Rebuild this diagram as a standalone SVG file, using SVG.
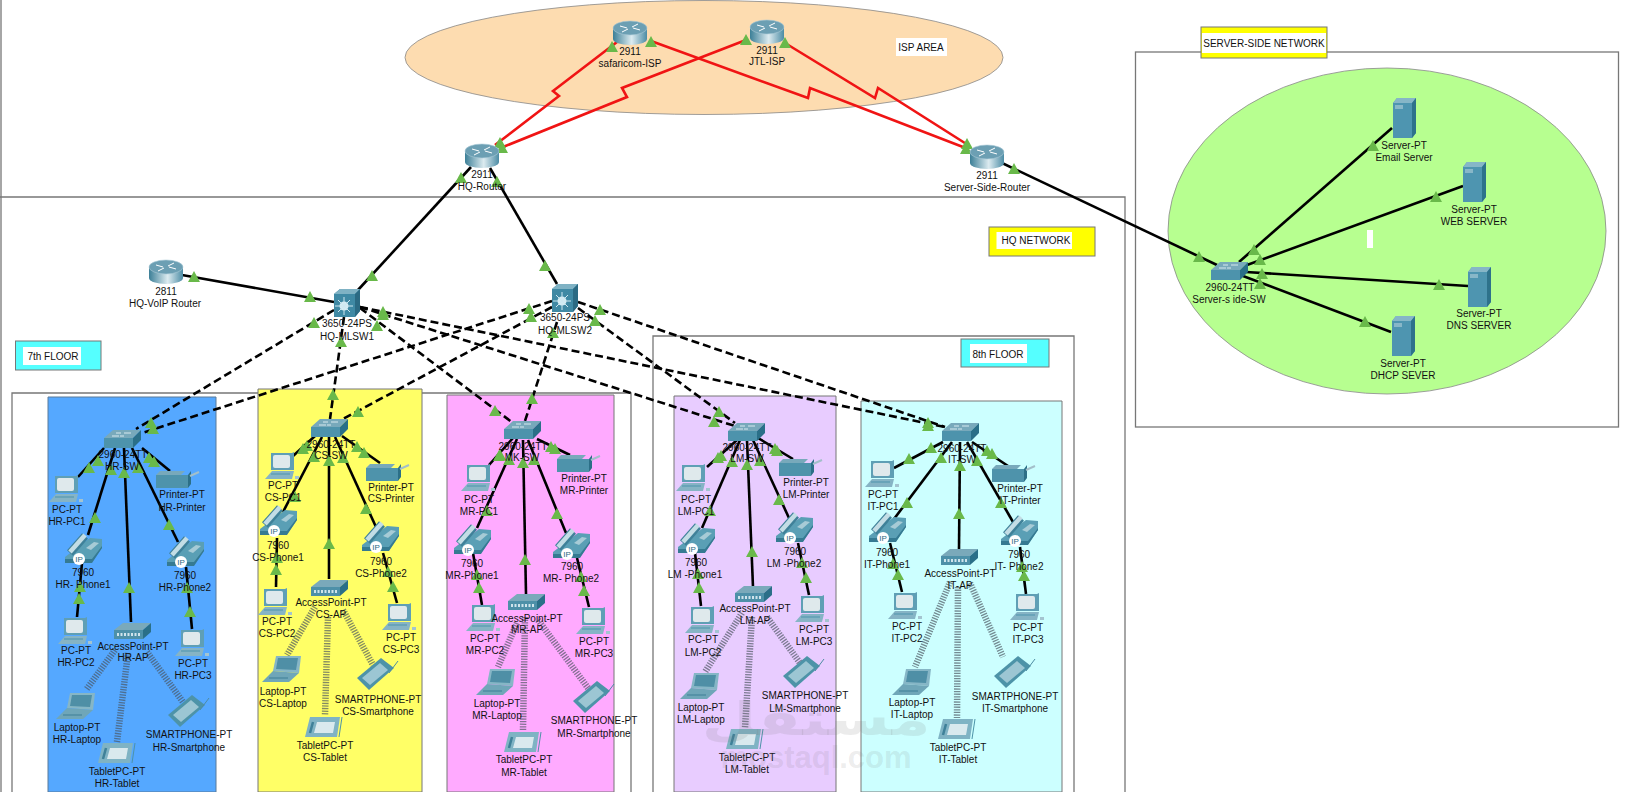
<svg xmlns="http://www.w3.org/2000/svg" width="1626" height="792" viewBox="0 0 1626 792">
<style>
text{font-family:"Liberation Sans",Arial,sans-serif;font-size:10px;text-anchor:middle;fill:#111}
.f{fill:none;stroke:#777;stroke-width:1.3}
.s{stroke:#000;stroke-width:2.6;fill:none}
.d{stroke:#000;stroke-width:2.6;stroke-dasharray:8 4;fill:none}
.w{stroke:#4a545e;stroke-opacity:.68;stroke-width:6.500;stroke-dasharray:1.3 1.3;fill:none}
.r{stroke:#f01414;stroke-width:2.6;fill:none}
.m{fill:#7a7a7a;fill-opacity:.15;font-weight:bold}
</style>
<defs>
<linearGradient id="rg" x1="0" x2="1" y1="0" y2="0"><stop offset="0" stop-color="#3c7f97"/><stop offset=".55" stop-color="#dcebf0"/><stop offset="1" stop-color="#4c8ca5"/></linearGradient>
<polygon id="t" points="0,-6 6,5 -6,5" fill="#69b94a"/>
<g id="router"><path d="M-17-5V6A17 6 0 0 0 17 6V-5Z" fill="url(#rg)"/><ellipse cy="-5" rx="17" ry="7" fill="#6c9fb3" stroke="#a9cad6" stroke-width=".6"/><path d="M-10-7L-3-5M3-5L10-3M-8-1L-2-4M2-6L8-9" stroke="#fff" stroke-width="1"/></g>
<g id="ml"><path d="M-13-9L-7-14H13V8L8 14H-13Z" fill="#3f89a4"/><path d="M-13-9L-7-14H13L8-9Z" fill="#7fb2c4"/><path d="M8-9L13-14V8L8 14Z" fill="#2b6a83"/><circle cx="-3" cy="3" r="4.500" fill="#d5ecf4"/><path d="M-3-6V12M-12 3H6M-9-3L3 9M-9 9L3-3" stroke="#cfe8f1" stroke-width="1"/></g>
<g id="sw"><path d="M-18-1L-9-9H19L11-1Z" fill="#78a9bb"/><path d="M-18-1H11V9H-18Z" fill="#4d93ac"/><path d="M11-1L19-9V1L11 9Z" fill="#2a6f88"/><path d="M-10-3H-3M2-6H9M-2-3H2M-6-6H-1" stroke="#d7e9ef" stroke-width="1"/></g>
<g id="srv"><path d="M-11-15L-7-20H12V15L8 20H-11Z" fill="#4e95b0"/><path d="M-11-15L-7-20H12L8-15Z" fill="#86b6c7"/><path d="M8-15L12-20V15L8 20Z" fill="#2e728b"/><rect x="-9" y="-13" width="8" height="4" fill="#88b7c8"/></g>
<g id="pc"><path d="M-11-13H10L12-14V4H-11Z" fill="#5f9fb5"/><rect x="-9" y="-11" width="17" height="13" rx="2" fill="#dfe9ec"/><path d="M-17 13L-10 5H12L10 13Z" fill="#86b4c5"/><path d="M-11 8H8" stroke="#4d93ac"/><path d="M13 10h4v3h-4Z" fill="#a4c4d0"/></g>
<g id="ph"><path d="M-18 6L7-13L19-12V-3L9 11L-18 12Z" fill="#5a9fb5"/><path d="M-18 8H9L19-5V-3L9 12H-18Z" fill="#357a92"/><path d="M-13 2L2-15" stroke="#3f8199" stroke-width="8"/><path d="M-13 1L2-16" stroke="#c3dde5" stroke-width="4.500"/><path d="M3-3L11-9L16-8L8-1Z" fill="#a7cbd6"/><circle cx="-4" cy="8" r="6" fill="#fff"/><text x="-4" y="11" style="font-size:8px;fill:#2b6a83">IP</text></g>
<g id="pr"><path d="M-21-4L-17-8H8L4-4Z" fill="#78a9bb"/><path d="M-21-4H11V9H-21Z" fill="#4e93ab"/><path d="M11-4L14-8V5L11 9Z" fill="#2c6f87"/><path d="M13-3L22-7" stroke="#a3bfca" stroke-width="2"/></g>
<g id="ap"><path d="M-18-1L-9-8H19L11-1Z" fill="#7aa9ba"/><path d="M-18-1H11V8H-18Z" fill="#4d90a8"/><path d="M11-1L19-8V1L11 8Z" fill="#2a6f88"/><path d="M-15 3.500H8" stroke="#cfe4ec" stroke-width="3" stroke-dasharray="2 1.500"/></g>
<g id="lap"><path d="M-6-13H19L17 4L-9 2Z" fill="#86b6c6"/><path d="M-4-11H16L14 1L-6 0Z" fill="#4f8fa6"/><path d="M-9 2L-20 13H7L17 4Z" fill="#6fa6b8"/><path d="M-13 9H6" stroke="#3f7f96"/></g>
<g id="tab"><path d="M-14-10H16L13 10H-19Z" fill="#7fb3c4"/><path d="M-7-5H11L9 6H-10Z" fill="#d9e9ee"/><path d="M-11-5L-14 6" stroke="#3f8199" stroke-width="2.500"/><path d="M18-10L15 10" stroke="#4d93a8" stroke-width="1"/></g>
<g id="sm"><path d="M-20 3L4-17L17-7L-8 15Z" fill="#4d93a8"/><path d="M-15 3L3-12L11-5L-7 10Z" fill="#9cc6d3"/><path d="M12-2L21-14" stroke="#4d8ca2" stroke-width="1"/></g>
</defs>
<rect width="1626" height="792" fill="#fff"/>
<g id="background">
<path class="f" d="M1 0V792M0 197H1125V792"/>
<ellipse cx="704" cy="57.500" rx="299" ry="57" fill="#fddcb0" stroke="#888" stroke-width=".8"/>
<rect class="f" x="1135.500" y="52" width="483" height="375"/>
<ellipse cx="1387" cy="231" rx="219" ry="163" fill="#b7ff90" stroke="#888" stroke-width=".8"/>
<rect x="1367" y="230" width="6" height="18" fill="#fff"/>
<path class="f" d="M12 792V393H631V792M653 792V336H1074V792"/>
<path d="M48 792V397H216V792Z" fill="#55a8ff" stroke="#5a7a9a"/>
<path d="M258 792V389H422V792Z" fill="#ffff66" stroke="#777"/>
<path d="M447 792V395H614V792Z" fill="#ffaaff" stroke="#777"/>
<path d="M674 792V396H836V792Z" fill="#e8ccff" stroke="#777"/>
<path d="M861 792V401H1062V792Z" fill="#ccffff" stroke="#777"/>
<g id="label-isp"><rect x="896" y="38" width="51" height="18" fill="#fff"/><text x="921" y="50.500">ISP AREA</text></g>
<g id="label-server"><rect x="1201" y="27" width="126" height="31" fill="#ffff00" stroke="#777"/><rect x="1202" y="33" width="124" height="20" fill="#fff"/><text x="1264" y="46.500">SERVER-SIDE NETWORK</text></g>
<g id="label-hq"><rect x="989" y="227" width="106" height="29" fill="#ffff00" stroke="#777"/><rect x="996.500" y="232" width="75.500" height="17" fill="#fff"/><text x="1036" y="244">HQ NETWORK</text></g>
<g id="label-8"><rect x="961" y="339" width="88" height="28" fill="#55ffff" stroke="#777"/><rect x="970" y="344" width="57" height="19" fill="#fff"/><text x="998" y="357.500">8th FLOOR</text></g>
<g id="label-7"><rect x="15.500" y="341" width="85.500" height="29" fill="#55ffff" stroke="#777"/><rect x="23" y="347" width="58" height="18" fill="#fff"/><text x="53" y="359.500">7th FLOOR</text></g>
</g>
<g id="connectors">
<polyline class="r" points="617,42 553,91 559,96 495,145"/>
<polyline class="r" points="746,40 622,88 627,97 503,147"/>
<polyline class="r" points="651,41 808,98 810,88 963,147"/>
<polyline class="r" points="785,43 875,98 878,88 968,145"/>
<line class="s" x1="471" y1="167" x2="358" y2="290"/><line class="s" x1="490" y1="168" x2="557" y2="284"/>
<line class="s" x1="182" y1="275" x2="334" y2="302"/><line class="s" x1="1002" y1="163" x2="1217" y2="265"/>
<line class="s" x1="1239" y1="262" x2="1392" y2="128"/><line class="s" x1="1247" y1="265" x2="1463" y2="186"/>
<line class="s" x1="1246" y1="272" x2="1468" y2="286"/><line class="s" x1="1243" y1="276" x2="1391" y2="332"/>
<line class="d" x1="334" y1="310" x2="136" y2="429"/><line class="d" x1="552" y1="301" x2="142" y2="433"/>
<line class="d" x1="344" y1="317" x2="330" y2="419"/><line class="d" x1="552" y1="307" x2="343" y2="419"/>
<line class="d" x1="360" y1="308" x2="513" y2="423"/><line class="d" x1="557" y1="322" x2="525" y2="421"/>
<line class="d" x1="360" y1="307" x2="735" y2="426"/><line class="d" x1="578" y1="308" x2="735" y2="423"/>
<line class="d" x1="360" y1="307" x2="945" y2="427"/><line class="d" x1="578" y1="302" x2="945" y2="427"/>
<line class="s" x1="104" y1="448" x2="78" y2="477"/><line class="s" x1="115" y1="448" x2="88" y2="535"/><line class="s" x1="124" y1="448" x2="131" y2="622"/><line class="s" x1="132" y1="448" x2="178" y2="542"/><line class="s" x1="142" y1="448" x2="170" y2="471"/><line class="s" x1="82" y1="563" x2="77" y2="617"/><line class="s" x1="186" y1="567" x2="192" y2="629"/>
<line class="w" x1="115" y1="650" x2="86" y2="690"/><line class="w" x1="128" y1="653" x2="117" y2="742"/><line class="w" x1="147" y1="652" x2="183" y2="702"/>
<line class="s" x1="315" y1="436" x2="293" y2="456"/><line class="s" x1="322" y1="437" x2="283" y2="512"/><line class="s" x1="329" y1="437" x2="329" y2="579"/><line class="s" x1="335" y1="437" x2="376" y2="527"/><line class="s" x1="342" y1="436" x2="380" y2="463"/><line class="s" x1="277" y1="538" x2="276" y2="587"/><line class="s" x1="383" y1="553" x2="397" y2="603"/>
<line class="w" x1="315" y1="607" x2="287" y2="655"/><line class="w" x1="328" y1="617" x2="325" y2="715"/><line class="w" x1="343" y1="610" x2="373" y2="665"/>
<line class="s" x1="513" y1="438" x2="489" y2="465"/><line class="s" x1="517" y1="439" x2="477" y2="528"/><line class="s" x1="523" y1="440" x2="526" y2="594"/><line class="s" x1="528" y1="440" x2="566" y2="533"/><line class="s" x1="537" y1="439" x2="570" y2="455"/><line class="s" x1="473" y1="553" x2="482" y2="605"/><line class="s" x1="577" y1="558" x2="589" y2="607"/>
<line class="w" x1="517" y1="623" x2="498" y2="667"/><line class="w" x1="525" y1="617" x2="523" y2="730"/><line class="w" x1="538" y1="620" x2="588" y2="688"/>
<line class="s" x1="737" y1="440" x2="707" y2="467"/><line class="s" x1="740" y1="440" x2="702" y2="528"/><line class="s" x1="747" y1="440" x2="753" y2="587"/><line class="s" x1="753" y1="440" x2="789" y2="518"/><line class="s" x1="758" y1="438" x2="793" y2="459"/><line class="s" x1="695" y1="553" x2="701" y2="606"/><line class="s" x1="798" y1="543" x2="809" y2="595"/>
<line class="w" x1="742" y1="613" x2="705" y2="672"/><line class="w" x1="752" y1="617" x2="745" y2="728"/><line class="w" x1="767" y1="617" x2="800" y2="663"/>
<line class="s" x1="943" y1="442" x2="894" y2="468"/><line class="s" x1="952" y1="442" x2="894" y2="519"/><line class="s" x1="960" y1="442" x2="959" y2="549"/><line class="s" x1="967" y1="442" x2="1013" y2="522"/><line class="s" x1="972" y1="442" x2="1008" y2="466"/><line class="s" x1="890" y1="543" x2="902" y2="592"/><line class="s" x1="1020" y1="547" x2="1026" y2="594"/>
<line class="w" x1="950" y1="582" x2="915" y2="667"/><line class="w" x1="958" y1="587" x2="957" y2="718"/><line class="w" x1="970" y1="583" x2="1003" y2="657"/>
<g id="link-lights">
<use href="#t" x="612" y="47"/><use href="#t" x="651" y="42"/><use href="#t" x="746" y="40"/><use href="#t" x="785" y="43"/><use href="#t" x="500" y="143"/><use href="#t" x="502" y="148"/><use href="#t" x="967" y="144"/><use href="#t" x="966" y="149"/>
<use href="#t" x="461" y="178"/><use href="#t" x="372" y="276"/><use href="#t" x="497" y="182"/><use href="#t" x="545" y="266"/><use href="#t" x="194" y="277"/><use href="#t" x="310" y="297"/><use href="#t" x="1014" y="169"/><use href="#t" x="1199" y="257"/>
<use href="#t" x="1254" y="250"/><use href="#t" x="1373" y="146"/><use href="#t" x="1260" y="260"/><use href="#t" x="1436" y="197"/><use href="#t" x="1262" y="274"/><use href="#t" x="1439" y="285"/><use href="#t" x="1260" y="284"/><use href="#t" x="1365" y="322"/>
<use href="#t" x="314" y="323"/><use href="#t" x="151" y="423"/><use href="#t" x="529" y="309"/><use href="#t" x="153" y="429"/><use href="#t" x="341" y="342"/><use href="#t" x="333" y="395"/><use href="#t" x="531" y="317"/><use href="#t" x="358" y="412"/><use href="#t" x="377" y="326"/><use href="#t" x="495" y="411"/><use href="#t" x="553" y="333"/><use href="#t" x="532" y="399"/><use href="#t" x="383" y="312"/><use href="#t" x="383" y="315"/><use href="#t" x="714" y="422"/><use href="#t" x="719" y="412"/><use href="#t" x="600" y="310"/><use href="#t" x="595" y="321"/><use href="#t" x="928" y="423"/><use href="#t" x="928" y="426"/>
<use href="#t" x="98" y="461"/><use href="#t" x="89" y="468"/><use href="#t" x="111" y="470"/><use href="#t" x="95" y="518"/><use href="#t" x="124" y="473"/><use href="#t" x="129" y="588"/><use href="#t" x="138" y="468"/><use href="#t" x="169" y="525"/><use href="#t" x="149" y="458"/><use href="#t" x="154" y="462"/><use href="#t" x="80" y="587"/><use href="#t" x="79" y="599"/><use href="#t" x="187" y="588"/><use href="#t" x="190" y="612"/>
<use href="#t" x="307" y="446"/><use href="#t" x="303" y="449"/><use href="#t" x="314" y="457"/><use href="#t" x="295" y="497"/><use href="#t" x="329" y="461"/><use href="#t" x="329" y="544"/><use href="#t" x="343" y="458"/><use href="#t" x="366" y="509"/><use href="#t" x="357" y="447"/><use href="#t" x="364" y="453"/><use href="#t" x="277" y="558"/><use href="#t" x="276" y="570"/><use href="#t" x="388" y="572"/><use href="#t" x="393" y="587"/>
<use href="#t" x="499" y="456"/><use href="#t" x="500" y="455"/><use href="#t" x="509" y="460"/><use href="#t" x="487" y="511"/><use href="#t" x="523" y="463"/><use href="#t" x="525" y="560"/><use href="#t" x="534" y="460"/><use href="#t" x="557" y="514"/><use href="#t" x="551" y="447"/><use href="#t" x="555" y="449"/><use href="#t" x="477" y="575"/><use href="#t" x="479" y="588"/><use href="#t" x="581" y="577"/><use href="#t" x="584" y="591"/>
<use href="#t" x="721" y="456"/><use href="#t" x="718" y="458"/><use href="#t" x="732" y="462"/><use href="#t" x="710" y="511"/><use href="#t" x="747" y="465"/><use href="#t" x="752" y="552"/><use href="#t" x="760" y="461"/><use href="#t" x="779" y="500"/><use href="#t" x="775" y="449"/><use href="#t" x="777" y="451"/><use href="#t" x="698" y="574"/><use href="#t" x="699" y="588"/><use href="#t" x="802" y="563"/><use href="#t" x="806" y="578"/>
<use href="#t" x="931" y="448"/><use href="#t" x="909" y="459"/><use href="#t" x="941" y="458"/><use href="#t" x="907" y="503"/><use href="#t" x="960" y="466"/><use href="#t" x="959" y="514"/><use href="#t" x="977" y="461"/><use href="#t" x="1001" y="503"/><use href="#t" x="987" y="451"/><use href="#t" x="992" y="454"/><use href="#t" x="893" y="564"/><use href="#t" x="898" y="575"/><use href="#t" x="1022" y="567"/><use href="#t" x="1024" y="576"/>
</g>
</g>
<g id="safaricom-ISP"><use href="#router" x="630" y="33"/><text x="630" y="54.500">2911</text><text x="630" y="66.500">safaricom-ISP</text></g>
<g id="JTL-ISP"><use href="#router" x="767" y="32"/><text x="767" y="53.500">2911</text><text x="767" y="64.500">JTL-ISP</text></g>
<g id="HQ-Router"><use href="#router" x="482" y="156"/><text x="482" y="177.500">2911</text><text x="482" y="189.500">HQ-Router</text></g>
<g id="Server-Side-Router"><use href="#router" x="987" y="157"/><text x="987" y="178.500">2911</text><text x="987" y="190.500">Server-Side-Router</text></g>
<g id="HQ-VoIP-Router"><use href="#router" x="166" y="272"/><text x="166" y="294.500">2811</text><text x="165" y="306.500">HQ-VoIP Router</text></g>
<g id="HQ-MLSW1"><use href="#ml" x="347" y="303"/><text x="347" y="326.500">3650-24PS</text><text x="347" y="339.500">HQ-MLSW1</text></g>
<g id="HQ-MLSW2"><use href="#ml" x="565" y="298"/><text x="565" y="320.500">3650-24PS</text><text x="565" y="333.500">HQ-MLSW2</text></g>
<g id="Server-side-SW"><use href="#sw" x="1229" y="271"/><text x="1230" y="290.500">2960-24TT</text><text x="1229" y="302.500">Server-s ide-SW</text></g>
<g id="Email-Server"><use href="#srv" x="1404" y="118"/><text x="1404" y="148.500">Server-PT</text><text x="1404" y="160.500">Email Server</text></g>
<g id="Web-Server"><use href="#srv" x="1474" y="182"/><text x="1474" y="212.500">Server-PT</text><text x="1474" y="224.500">WEB SERVER</text></g>
<g id="DNS-Server"><use href="#srv" x="1479" y="287"/><text x="1479" y="316.500">Server-PT</text><text x="1479" y="328.500">DNS SERVER</text></g>
<g id="DHCP-Server"><use href="#srv" x="1403" y="336"/><text x="1403" y="366.500">Server-PT</text><text x="1403" y="378.500">DHCP SEVER</text></g>
<g id="HR-SW"><use href="#sw" x="122" y="439"/><text x="123" y="457.500">2960-24TT</text><text x="122" y="469.500">HR-SW</text></g>
<g id="HR-PC1"><use href="#pc" x="66" y="489"/><text x="67" y="512.500">PC-PT</text><text x="67" y="524.500">HR-PC1</text></g>
<g id="HR-Phone1"><use href="#ph" x="83" y="551"/><text x="83" y="575.500">7960</text><text x="83" y="587.500">HR- Phone1</text></g>
<g id="HR-PC2"><use href="#pc" x="75" y="631"/><text x="76" y="653.500">PC-PT</text><text x="76" y="665.500">HR-PC2</text></g>
<g id="HR-AP"><use href="#ap" x="132" y="631"/><text x="133" y="649.500">AccessPoint-PT</text><text x="133" y="660.500">HR-AP</text></g>
<g id="HR-PC3"><use href="#pc" x="192" y="643"/><text x="193" y="666.500">PC-PT</text><text x="193" y="678.500">HR-PC3</text></g>
<g id="HR-Phone2"><use href="#ph" x="185" y="554"/><text x="185" y="578.500">7960</text><text x="185" y="590.500">HR-Phone2</text></g>
<g id="HR-Printer"><use href="#pr" x="177" y="479"/><text x="182" y="497.500">Printer-PT</text><text x="182" y="510.500">HR-Printer</text></g>
<g id="HR-Laptop"><use href="#lap" x="76" y="706"/><text x="77" y="730.500">Laptop-PT</text><text x="77" y="742.500">HR-Laptop</text></g>
<g id="HR-Tablet"><use href="#tab" x="117" y="753"/><text x="117" y="774.500">TabletPC-PT</text><text x="117" y="786.500">HR-Tablet</text></g>
<g id="HR-Smartphone"><use href="#sm" x="188" y="712"/><text x="189" y="737.500">SMARTPHONE-PT</text><text x="189" y="750.500">HR-Smartphone</text></g>
<g id="CS-SW"><use href="#sw" x="329" y="428"/><text x="331" y="447.500">2960-24TT</text><text x="331" y="458.500">CS-SW</text></g>
<g id="CS-PC1"><use href="#pc" x="282" y="466"/><text x="283" y="488.500">PC-PT</text><text x="283" y="500.500">CS-PC1</text></g>
<g id="CS-Phone1"><use href="#ph" x="278" y="523"/><text x="278" y="548.500">7960</text><text x="278" y="560.500">CS-Phone1</text></g>
<g id="CS-PC2"><use href="#pc" x="275" y="602"/><text x="277" y="624.500">PC-PT</text><text x="277" y="636.500">CS-PC2</text></g>
<g id="CS-AP"><use href="#ap" x="329" y="588"/><text x="331" y="605.500">AccessPoint-PT</text><text x="331" y="617.500">CS-AP</text></g>
<g id="CS-PC3"><use href="#pc" x="399" y="617"/><text x="401" y="640.500">PC-PT</text><text x="401" y="652.500">CS-PC3</text></g>
<g id="CS-Phone2"><use href="#ph" x="380" y="539"/><text x="381" y="564.500">7960</text><text x="381" y="576.500">CS-Phone2</text></g>
<g id="CS-Printer"><use href="#pr" x="387" y="472"/><text x="391" y="490.500">Printer-PT</text><text x="391" y="501.500">CS-Printer</text></g>
<g id="CS-Laptop"><use href="#lap" x="282" y="669"/><text x="283" y="694.500">Laptop-PT</text><text x="283" y="706.500">CS-Laptop</text></g>
<g id="CS-Tablet"><use href="#tab" x="324" y="727"/><text x="325" y="748.500">TabletPC-PT</text><text x="325" y="760.500">CS-Tablet</text></g>
<g id="CS-Smartphone"><use href="#sm" x="377" y="675"/><text x="378" y="702.500">SMARTPHONE-PT</text><text x="378" y="714.500">CS-Smartphone</text></g>
<g id="MR-SW"><use href="#sw" x="522" y="430"/><text x="523" y="449.500">2960-24TT</text><text x="522" y="460.500">MK-SW</text></g>
<g id="MR-PC1"><use href="#pc" x="478" y="478"/><text x="479" y="502.500">PC-PT</text><text x="479" y="514.500">MR-PC1</text></g>
<g id="MR-Phone1"><use href="#ph" x="472" y="542"/><text x="472" y="566.500">7960</text><text x="472" y="578.500">MR-Phone1</text></g>
<g id="MR-PC2"><use href="#pc" x="483" y="618"/><text x="485" y="641.500">PC-PT</text><text x="485" y="653.500">MR-PC2</text></g>
<g id="MR-AP"><use href="#ap" x="526" y="602"/><text x="527" y="621.500">AccessPoint-PT</text><text x="527" y="632.500">MR-AP</text></g>
<g id="MR-PC3"><use href="#pc" x="593" y="621"/><text x="594" y="644.500">PC-PT</text><text x="594" y="656.500">MR-PC3</text></g>
<g id="MR-Phone2"><use href="#ph" x="571" y="546"/><text x="572" y="569.500">7960</text><text x="571" y="581.500">MR- Phone2</text></g>
<g id="MR-Printer"><use href="#pr" x="578" y="463"/><text x="584" y="481.500">Printer-PT</text><text x="584" y="493.500">MR-Printer</text></g>
<g id="MR-Laptop"><use href="#lap" x="496" y="682"/><text x="497" y="706.500">Laptop-PT</text><text x="497" y="718.500">MR-Laptop</text></g>
<g id="MR-Tablet"><use href="#tab" x="523" y="742"/><text x="524" y="762.500">TabletPC-PT</text><text x="524" y="775.500">MR-Tablet</text></g>
<g id="MR-Smartphone"><use href="#sm" x="593" y="698"/><text x="594" y="723.500">SMARTPHONE-PT</text><text x="594" y="736.500">MR-Smartphone</text></g>
<g id="LM-SW"><use href="#sw" x="746" y="432"/><text x="747" y="450.500">2960-24TT</text><text x="747" y="461.500">LM-SW</text></g>
<g id="LM-PC1"><use href="#pc" x="693" y="478"/><text x="696" y="502.500">PC-PT</text><text x="696" y="514.500">LM-PC1</text></g>
<g id="LM-Phone1"><use href="#ph" x="696" y="541"/><text x="696" y="565.500">7960</text><text x="695" y="577.500">LM -Phone1</text></g>
<g id="LM-PC2"><use href="#pc" x="702" y="620"/><text x="703" y="642.500">PC-PT</text><text x="703" y="655.500">LM-PC2</text></g>
<g id="LM-AP"><use href="#ap" x="753" y="594"/><text x="755" y="611.500">AccessPoint-PT</text><text x="755" y="623.500">LM-AP</text></g>
<g id="LM-PC3"><use href="#pc" x="812" y="609"/><text x="814" y="632.500">PC-PT</text><text x="814" y="644.500">LM-PC3</text></g>
<g id="LM-Phone2"><use href="#ph" x="794" y="530"/><text x="795" y="554.500">7960</text><text x="794" y="566.500">LM -Phone2</text></g>
<g id="LM-Printer"><use href="#pr" x="800" y="467"/><text x="806" y="485.500">Printer-PT</text><text x="806" y="497.500">LM-Printer</text></g>
<g id="LM-Laptop"><use href="#lap" x="700" y="686"/><text x="701" y="710.500">Laptop-PT</text><text x="701" y="722.500">LM-Laptop</text></g>
<g id="LM-Tablet"><use href="#tab" x="745" y="739"/><text x="747" y="760.500">TabletPC-PT</text><text x="747" y="772.500">LM-Tablet</text></g>
<g id="LM-Smartphone"><use href="#sm" x="803" y="673"/><text x="805" y="698.500">SMARTPHONE-PT</text><text x="805" y="711.500">LM-Smartphone</text></g>
<g id="IT-SW"><use href="#sw" x="960" y="432"/><text x="962" y="451.500">2960-24TT</text><text x="962" y="462.500">IT-SW</text></g>
<g id="IT-PC1"><use href="#pc" x="882" y="474"/><text x="883" y="497.500">PC-PT</text><text x="883" y="509.500">IT-PC1</text></g>
<g id="IT-Phone1"><use href="#ph" x="887" y="530"/><text x="887" y="555.500">7960</text><text x="887" y="567.500">IT-Phone1</text></g>
<g id="IT-PC2"><use href="#pc" x="905" y="606"/><text x="907" y="629.500">PC-PT</text><text x="907" y="641.500">IT-PC2</text></g>
<g id="IT-AP"><use href="#ap" x="959" y="557"/><text x="960" y="576.500">AccessPoint-PT</text><text x="960" y="588.500">IT-AP</text></g>
<g id="IT-PC3"><use href="#pc" x="1027" y="607"/><text x="1028" y="630.500">PC-PT</text><text x="1028" y="642.500">IT-PC3</text></g>
<g id="IT-Phone2"><use href="#ph" x="1019" y="533"/><text x="1019" y="557.500">7960</text><text x="1019" y="569.500">IT- Phone2</text></g>
<g id="IT-Printer"><use href="#pr" x="1013" y="473"/><text x="1020" y="491.500">Printer-PT</text><text x="1020" y="503.500">IT-Printer</text></g>
<g id="IT-Laptop"><use href="#lap" x="912" y="682"/><text x="912" y="705.500">Laptop-PT</text><text x="912" y="717.500">IT-Laptop</text></g>
<g id="IT-Tablet"><use href="#tab" x="957" y="729"/><text x="958" y="750.500">TabletPC-PT</text><text x="958" y="762.500">IT-Tablet</text></g>
<g id="IT-Smartphone"><use href="#sm" x="1014" y="673"/><text x="1015" y="699.500">SMARTPHONE-PT</text><text x="1015" y="711.500">IT-Smartphone</text></g>
<g id="watermark"><text class="m" x="816" y="768" style="font-size:31px">mostaql.com</text><text class="m" transform="translate(816 735) scale(1.36 1)" style="font-size:46px;font-family:'DejaVu Sans',sans-serif">مستقل</text></g>
</svg>
